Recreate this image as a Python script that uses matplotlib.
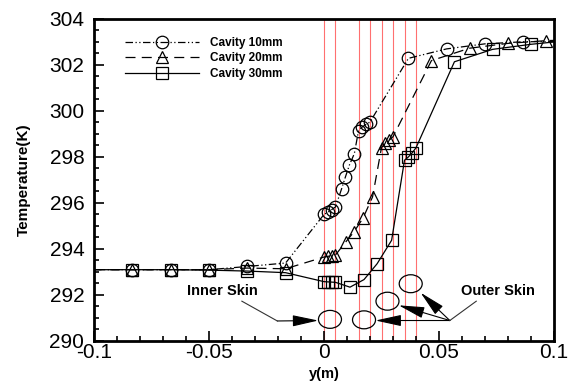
import matplotlib
matplotlib.use("Agg")
import matplotlib.pyplot as plt
from matplotlib.patches import Ellipse
from matplotlib.ticker import MultipleLocator

plt.rcParams['font.family'] = ['Liberation Sans', 'DejaVu Sans']

# ---- data ----
y10 = [-0.1, -0.0833, -0.0667, -0.05, -0.0333, -0.0167,
       0.0, 0.00167, 0.00333, 0.005,
       0.0077, 0.0093, 0.0110, 0.0132,
       0.015, 0.01667, 0.01833, 0.02,
       0.0367, 0.0533, 0.07, 0.0867, 0.1]
T10 = [293.1, 293.1, 293.1, 293.1, 293.24, 293.39,
       295.5, 295.6, 295.71, 295.83,
       296.63, 297.13, 297.64, 298.15,
       299.14, 299.31, 299.42, 299.52,
       302.29, 302.7, 302.92, 303.01, 303.02]

y20 = [-0.1, -0.0833, -0.0667, -0.05, -0.0333, -0.0167,
       0.0, 0.00167, 0.00333, 0.005,
       0.0094, 0.013, 0.017, 0.0211,
       0.025, 0.02667, 0.02833, 0.03,
       0.0467, 0.0633, 0.08, 0.0967, 0.1]
T20 = [293.1, 293.1, 293.1, 293.1, 293.17, 293.14,
       293.65, 293.68, 293.71, 293.74,
       294.3, 294.74, 295.35, 296.26,
       298.41, 298.59, 298.73, 298.88,
       302.19, 302.73, 302.94, 303.06, 303.07]

y30 = [-0.1, -0.0833, -0.0667, -0.05, -0.0333, -0.0167,
       0.0, 0.00167, 0.00333, 0.005,
       0.0113, 0.0174, 0.0231, 0.0294,
       0.035, 0.03667, 0.03833, 0.04,
       0.0567, 0.0733, 0.09, 0.1]
T30 = [293.1, 293.1, 293.1, 293.08, 293.04, 292.97,
       292.58, 292.57, 292.56, 292.55,
       292.34, 292.67, 293.36, 294.38,
       297.86, 298.0, 298.18, 298.4,
       302.14, 302.68, 302.9, 303.0]

skin_edges = [0.0, 0.005, 0.015, 0.02, 0.025, 0.03, 0.035, 0.04]
series_labels = ['Cavity 10mm', 'Cavity 20mm', 'Cavity 30mm']
xtick_vals = [-0.1, -0.05, 0, 0.05, 0.1]
xtick_labels = ['-0.1', '-0.05', '0', '0.05', '0.1']

# ---- figure ----
fig = plt.figure(figsize=(5.78, 3.83), dpi=100)
ax = fig.add_axes([0.1626, 0.1097, 0.9585 - 0.1626, 0.9504 - 0.1097])

for xe in skin_edges:
    ax.axvline(xe, color='#ff7070', lw=0.8, zorder=1)

mk = dict(markerfacecolor='none', markeredgecolor='black', markeredgewidth=0.9,
          color='black', lw=0.9, zorder=3)
ax.plot(y10, T10, marker='o', markersize=9, dashes=[6, 2, 1, 2, 1, 2],
        markevery=list(range(1, len(y10) - 1)), label=series_labels[0], **mk)
ax.plot(y20, T20, marker='^', markersize=9, dashes=[8, 5],
        markevery=list(range(1, len(y20) - 1)), label=series_labels[1], **mk)
ax.plot(y30, T30, marker='s', markersize=8, linestyle='-',
        markevery=list(range(1, len(y30) - 1)), label=series_labels[2], **mk)

ax.set_xlim(-0.1, 0.1)
ax.set_ylim(290, 304)
ax.set_xticks(xtick_vals)
ax.set_xticklabels(xtick_labels)
ax.xaxis.set_minor_locator(MultipleLocator(0.01))
ax.yaxis.set_major_locator(MultipleLocator(2))
ax.yaxis.set_minor_locator(MultipleLocator(0.5))
ax.tick_params(which='both', direction='in', top=False, right=False, width=1.2)
ax.tick_params(which='major', length=7, labelsize=15, pad=7)
ax.tick_params(which='minor', length=3.5)
ax.tick_params(axis='x', pad=1.5)
for sp in ax.spines.values():
    sp.set_linewidth(2.0)

ax.set_xlabel('y(m)', fontsize=10.5, fontweight='bold')
ax.set_ylabel('Temperature(K)', fontsize=11, fontweight='bold')
ax.xaxis.set_label_coords(0.5, -0.08)
ax.yaxis.set_label_coords(-0.138, 0.5)

leg = ax.legend(loc='upper left', bbox_to_anchor=(0.067, 0.945), frameon=False,
                borderaxespad=0, borderpad=0,
                handlelength=6.3, handletextpad=0.9, labelspacing=0.32,
                prop={'weight': 'bold', 'size': 8.5})

# ---- annotations ----
ell_w, ell_h = 0.0100, 0.78
for (cx, cy) in [(0.0026, 290.94), (0.0174, 290.92), (0.0276, 291.73), (0.0377, 292.49)]:
    ax.add_patch(Ellipse((cx, cy), ell_w, ell_h, fill=False, edgecolor='black',
                         lw=0.9, zorder=4))

ax.text(-0.0442, 292.16, 'Inner Skin', fontsize=10.5, fontweight='bold',
        ha='center', va='center')
ax.text(0.0755, 292.16, 'Outer Skin', fontsize=10.5, fontweight='bold',
        ha='center', va='center')

lc = '#333333'
ax.plot([-0.0357, -0.0203], [291.73, 290.87], color=lc, lw=0.8, zorder=4)
arr = dict(arrowstyle='-|>,head_length=1.6,head_width=0.35', color='black',
           lw=0.8, shrinkA=0, shrinkB=0)
ax.annotate('', xy=(-0.0025, 290.89), xytext=(-0.0203, 290.87), arrowprops=arr)
ax.plot([0.0547, 0.0662], [290.89, 291.73], color=lc, lw=0.8, zorder=4)
ax.annotate('', xy=(0.0224, 290.89), xytext=(0.0547, 290.89), arrowprops=arr)
ax.annotate('', xy=(0.0325, 291.55), xytext=(0.0547, 290.89), arrowprops=arr)
ax.annotate('', xy=(0.0420, 292.10), xytext=(0.0547, 290.89), arrowprops=arr)

fig.savefig('out.png', dpi=100)
